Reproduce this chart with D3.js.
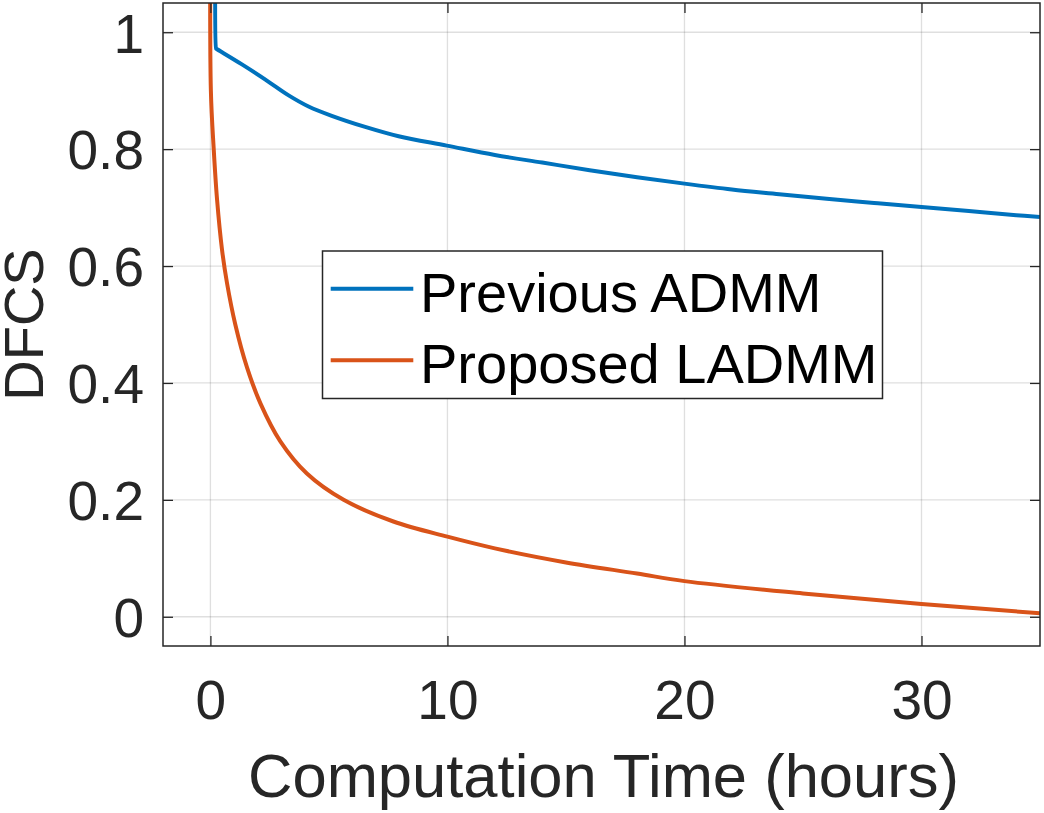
<!DOCTYPE html>
<html>
<head>
<meta charset="utf-8">
<script src="https://cdn.jsdelivr.net/npm/d3@7"></script>
<style>
  html, body { margin: 0; padding: 0; background: #fff; }
  svg { display: block; font-family: "Liberation Sans", Arial, Helvetica, sans-serif; }
</style>
</head>
<body>
<svg id="chart" width="1044" height="813"></svg>
<script>
// ---- data ----
const seriesNames = ["Previous ADMM", "Proposed LADMM"];
const seriesColors = ["#0072BD", "#D95319"];

const admmTime = [0.22, 0.24, 0.25, 1.33, 2.32, 3.30, 4.14, 5.12, 6.53, 7.94, 9.97, 12, 14, 16, 18, 20, 22, 24, 26, 28, 30, 32, 34, 35];
const admmDFCS = [1.2, 0.972, 0.9717, 0.945, 0.919, 0.892, 0.873, 0.857, 0.838, 0.822, 0.806, 0.790, 0.777, 0.764, 0.752, 0.741, 0.731, 0.723, 0.715, 0.708, 0.701, 0.694, 0.687, 0.684];

const ladmmTime = [0, 0.02, 0.14, 0.28, 0.49, 0.70, 1.05, 1.54, 2.11, 2.95, 4.07, 5.62, 7.72, 10, 12, 15, 18, 20, 25, 30, 35];
const ladmmDFCS = [1.2, 0.9, 0.800, 0.714, 0.628, 0.571, 0.500, 0.427, 0.365, 0.300, 0.245, 0.200, 0.163, 0.137, 0.117, 0.093, 0.074, 0.061, 0.040, 0.022, 0.006];

const xTicks = [0, 10, 20, 30];
const yTicks = [0, 0.2, 0.4, 0.6, 0.8, 1];
const xDomain = [-2, 35];
const yDomain = [-0.05, 1.05];
const xLabel = "Computation Time (hours)";
const yLabel = "DFCS";

(function () {
// ---- layout ----
const L = 163, R = 1040, T = 3, B = 646;
const axisColor = "#262626";
const svg = d3.select("#chart");

const x = d3.scaleLinear().domain(xDomain).range([L, R]);
const y = d3.scaleLinear().domain(yDomain).range([B, T]);

// grid
const grid = svg.append("g").attr("stroke", axisColor).attr("stroke-opacity", 0.15).attr("stroke-width", 1.3);
grid.selectAll("line.gx").data(xTicks).join("line").attr("class", "gx")
  .attr("x1", d => x(d)).attr("x2", d => x(d)).attr("y1", T).attr("y2", B);
grid.selectAll("line.gy").data(yTicks).join("line").attr("class", "gy")
  .attr("y1", d => y(d)).attr("y2", d => y(d)).attr("x1", L).attr("x2", R);

// clip
svg.append("clipPath").attr("id", "clip").append("rect")
  .attr("x", L).attr("y", T).attr("width", R - L).attr("height", B - T);

const line = d3.line().x(d => x(d[0])).y(d => y(d[1])).curve(d3.curveCatmullRom.alpha(0.5));
const data = [
  d3.zip(admmTime, admmDFCS),
  d3.zip(ladmmTime, ladmmDFCS)
];
svg.append("g").attr("clip-path", "url(#clip)")
  .selectAll("path").data(data).join("path")
  .attr("d", line)
  .attr("fill", "none")
  .attr("stroke", (d, i) => seriesColors[i])
  .attr("stroke-width", 4)
  .attr("stroke-linejoin", "round");

// axes with inward ticks (MATLAB box style)
const tickLen = 10;
const fs = 55;
const gBottom = svg.append("g").attr("transform", `translate(0,${B})`)
  .call(d3.axisBottom(x).tickValues(xTicks).tickSizeInner(-tickLen).tickSizeOuter(0).tickPadding(0).tickFormat(d3.format("d")));
const gTop = svg.append("g").attr("transform", `translate(0,${T})`)
  .call(d3.axisTop(x).tickValues(xTicks).tickSizeInner(-tickLen).tickSizeOuter(0).tickFormat(""));
const gLeft = svg.append("g").attr("transform", `translate(${L},0)`)
  .call(d3.axisLeft(y).tickValues(yTicks).tickSizeInner(-tickLen).tickSizeOuter(0).tickFormat(d => d === 0 ? "0" : d === 1 ? "1" : d3.format(".1f")(d)));
const gRight = svg.append("g").attr("transform", `translate(${R},0)`)
  .call(d3.axisRight(y).tickValues(yTicks).tickSizeInner(-tickLen).tickSizeOuter(0).tickFormat(""));

[gBottom, gTop, gLeft, gRight].forEach(g => {
  g.select(".domain").remove();
  g.selectAll(".tick line").attr("stroke", axisColor).attr("stroke-width", 1.3);
});
gBottom.selectAll(".tick text")
  .attr("fill", axisColor).attr("font-size", fs).attr("font-family", null)
  .attr("dy", null).attr("y", 73);
gLeft.selectAll(".tick text")
  .attr("fill", axisColor).attr("font-size", fs).attr("font-family", null)
  .attr("x", -19).attr("dy", "0.36em");

// box
svg.append("rect").attr("x", L).attr("y", T).attr("width", R - L).attr("height", B - T)
  .attr("fill", "none").attr("stroke", axisColor).attr("stroke-width", 1.5);

// axis labels
svg.append("text").attr("x", (L + R) / 2 + 2).attr("y", 797)
  .attr("text-anchor", "middle").attr("font-size", 61.5).attr("fill", axisColor).text(xLabel);
svg.append("text").attr("transform", `translate(43,${(T + B) / 2}) rotate(-90)`)
  .attr("text-anchor", "middle").attr("font-size", 56).attr("fill", axisColor).text(yLabel);

// legend
const lg = svg.append("g");
lg.append("rect").attr("x", 322.5).attr("y", 251).attr("width", 560).attr("height", 147.5)
  .attr("fill", "#fff").attr("stroke", axisColor).attr("stroke-width", 1.5);
const rows = [288.7, 360.3];
seriesNames.forEach((name, i) => {
  lg.append("line").attr("x1", 330.7).attr("x2", 413.3).attr("y1", rows[i]).attr("y2", rows[i])
    .attr("stroke", seriesColors[i]).attr("stroke-width", 4);
  lg.append("text").attr("x", 420).attr("y", rows[i] + 22.8)
    .attr("font-size", 56).attr("fill", "#000").text(name);
});
})();
</script>
</body>
</html>
